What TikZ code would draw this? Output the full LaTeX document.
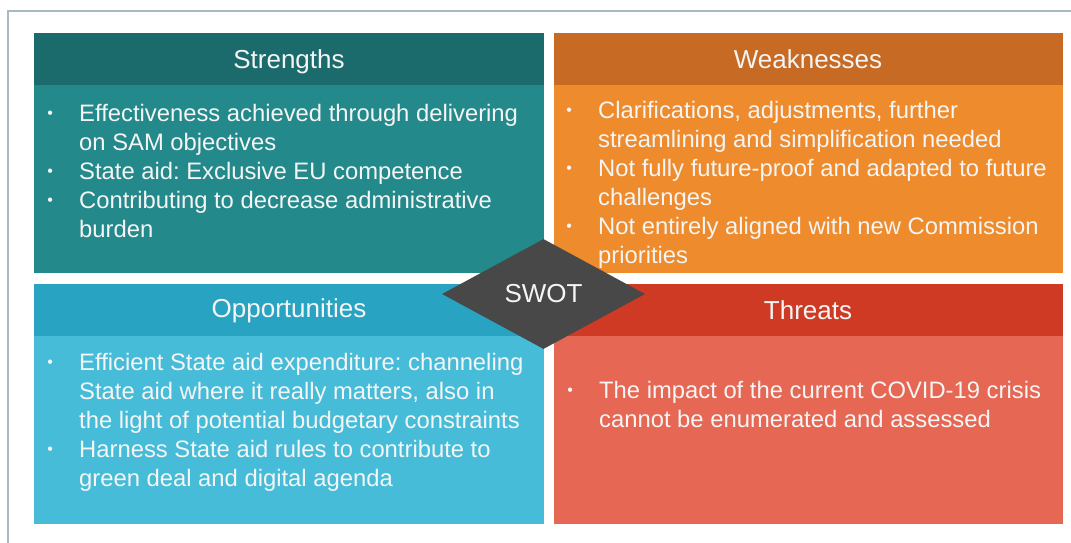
\documentclass[tikz,border=0pt]{standalone}
\usepackage{fontspec}
\setmainfont{Liberation Sans}
\usetikzlibrary{shapes.geometric}
\definecolor{frameC}{HTML}{A9B9C2}
\definecolor{sHead}{HTML}{1B6B6C}
\definecolor{sBody}{HTML}{24898B}
\definecolor{wHead}{HTML}{C76A24}
\definecolor{wBody}{HTML}{EE8B2D}
\definecolor{oHead}{HTML}{29A3C2}
\definecolor{oBody}{HTML}{47BCD9}
\definecolor{tHead}{HTML}{CF3A24}
\definecolor{tBody}{HTML}{E66753}
\definecolor{diaC}{HTML}{484848}
\definecolor{txtC}{HTML}{F5F5F5}
\frenchspacing
\newcommand\bul{\leavevmode\llap{\makebox[0pt]{\raisebox{2.8pt}{\fontsize{16}{16}\selectfont\textbullet}}\hspace{29pt}}}
\newcommand\bodytext[1]{\parbox[t]{500pt}{\frenchspacing\raggedright #1}}
\tikzset{
  quad/.style={rectangle, inner sep=0pt, outer sep=0pt, minimum width=510pt, minimum height=240pt, anchor=north west},
  headbar/.style={rectangle, inner sep=0pt, outer sep=0pt, minimum width=510pt, minimum height=52pt, anchor=north west},
  htext/.style={text=txtC, font=\fontsize{26}{30}\selectfont, anchor=base, inner sep=0pt},
  btext/.style={text=txtC, font=\fontsize{23.8}{29}\selectfont, anchor=base west, inner sep=0pt},
}
\begin{document}
\begin{tikzpicture}[x=1pt,y=-1pt]
\useasboundingbox (0,0) rectangle (1071,543);
\fill[white] (0,0) rectangle (1071,543);
% frame
\draw[frameC, line width=1.2pt] (1071,11) -- (8,11) -- (8,543);
% quadrants
\node[quad, fill=sBody] (S) at (34,33) {};
\node[headbar, fill=sHead] (Sh) at (S.north west) {};
\node[quad, fill=wBody, minimum width=509.5pt] (W) at (553.5,33) {};
\node[headbar, fill=wHead, minimum width=509.5pt] (Wh) at (W.north west) {};
\node[quad, fill=oBody] (O) at (34,283.5) {};
\node[headbar, fill=oHead] (Oh) at (O.north west) {};
\node[quad, fill=tBody, minimum width=509.5pt] (T) at (553.5,283.5) {};
\node[headbar, fill=tHead, minimum width=509.5pt] (Th) at (T.north west) {};
% headers
\node[htext] (Sl) at (289,69) {Strengths};
\node[htext] (Wl) at (808,68.5) {Weaknesses};
\node[htext] (Ol) at (289,317) {Opportunities};
\node[htext] (Tl) at (808,319) {Threats};
% diamond
\node[diamond, fill=diaC, inner sep=0pt, minimum width=203pt, minimum height=110pt] (swot) at (543.5,294) {};
\node[text=txtC, font=\fontsize{26}{30}\selectfont, anchor=base, inner sep=0pt] (swotl) at ([yshift=-8.5pt]swot.center) {SWOT};
% body texts
\node[btext] (Sb) at (79,121.5) {\bodytext{%
\bul Effectiveness achieved through delivering\\
on SAM objectives\\
\bul State aid: Exclusive EU competence\\
\bul Contributing to decrease administrative\\
burden}};
\node[btext] (Wb) at (598,118.5) {\bodytext{%
\bul Clarifications, adjustments, further\\
streamlining and simplification needed\\
\bul Not fully future-proof and adapted to future\\
challenges\\
\bul Not entirely aligned with new Commission\\
priorities}};
\node[btext] (Ob) at (79,370) {\bodytext{%
\bul Efficient State aid expenditure: channeling\\
State aid where it really matters, also in\\
the light of potential budgetary constraints\\
\bul Harness State aid rules to contribute to\\
green deal and digital agenda}};
\node[btext] (Tb) at (599,398) {\bodytext{%
\bul The impact of the current COVID-19 crisis\\
cannot be enumerated and assessed}};
\end{tikzpicture}
\end{document}
